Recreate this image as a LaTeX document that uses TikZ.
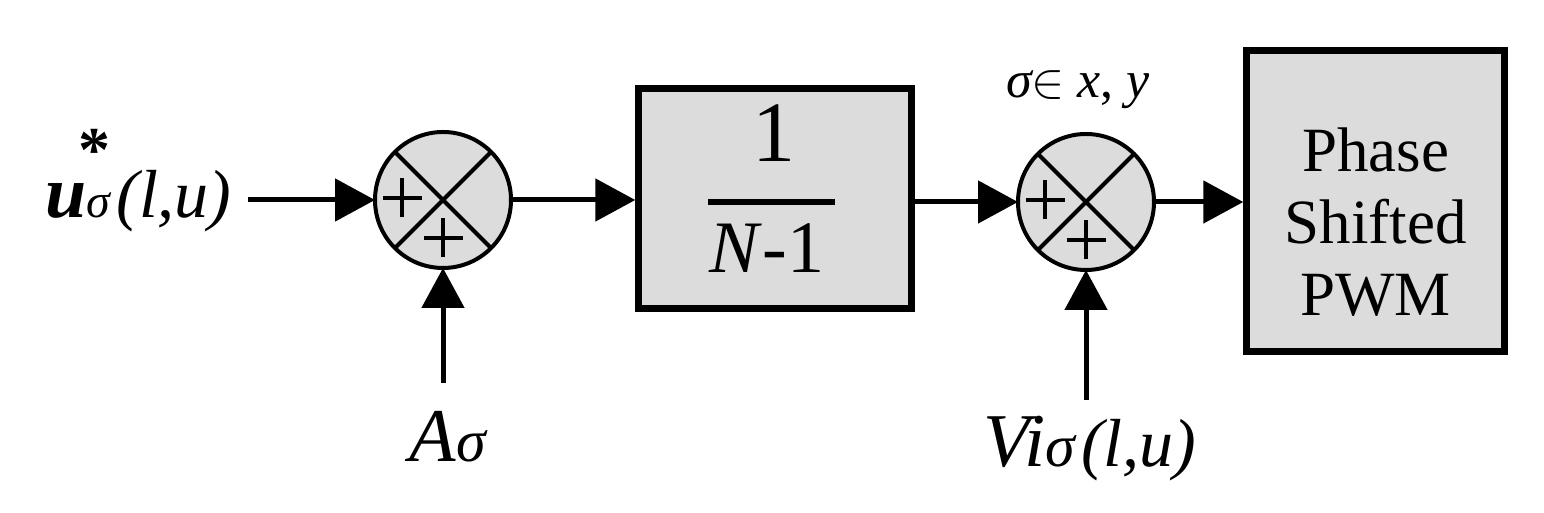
\documentclass[tikz,border=0pt]{standalone}
\usepackage{fontspec}
\setmainfont{Liberation Serif}
\usepackage{tikz}
\usetikzlibrary{arrows.meta,positioning}
\definecolor{blockfill}{HTML}{DCDCDC}

\begin{document}
\begin{tikzpicture}[
  x=0.5pt,y=0.5pt,
  sumnode/.style={circle,draw,line width=2pt,fill=blockfill,minimum size=68pt,inner sep=0pt,outer sep=0pt},
  blockbox/.style={draw,line width=3.2pt,fill=blockfill,inner sep=0pt},
  arr/.style={-{Triangle[length=20pt,width=21pt]},line width=2.5pt},
  signline/.style={line width=2pt},
  lbl/.style={inner sep=0pt,anchor=base}
]
\useasboundingbox (0,0) rectangle (1544,513);

\node[sumnode] (sum1) at (443,313) {};
\node[blockbox,minimum width=136.5pt,minimum height=110pt] (gain) at (775,314.5) {};
\node[sumnode] (sum2) at (1086,311) {};
\node[blockbox,minimum width=129pt,minimum height=150.5pt] (pwm) at (1375.5,312) {};

% crosses and plus signs in the junctions
\foreach \s in {sum1,sum2}{
  \draw[signline] (\s.north west) -- (\s.south east);
  \draw[signline] (\s.north east) -- (\s.south west);
  \draw[signline] ([shift={(-60.5,2)}]\s.center) -- ++(39,0);
  \draw[signline] ([shift={(-41,-17.5)}]\s.center) -- ++(0,39);
  \draw[signline] ([shift={(-19.5,-38)}]\s.center) -- ++(39,0);
  \draw[signline] ([shift={(0,-57.5)}]\s.center) -- ++(0,39);
}

\node[lbl,font=\fontsize{43}{43}\selectfont] (one) at ([shift={(-1,36.5)}]gain.center) {1};
\draw[line width=3.3pt] ([shift={(-67,-3.5)}]gain.center) -- ([shift={(60,-3.5)}]gain.center);
\node[lbl,font=\fontsize{37}{37}\selectfont] (nmone) at ([shift={(-8,-74.5)}]gain.center) {\textit{N}-1};

\node[align=center,inner sep=0pt,font=\fontsize{31.5}{36}\selectfont] (pwmtext) at ([yshift=-10.5]pwm.center) {Phase\\Shifted\\PWM};

\node[lbl,anchor=base east,font=\fontsize{34}{34}\selectfont] (uref) at (232,295)
  {{\fontsize{37}{37}\selectfont\bfseries\itshape u}\makebox[0pt]{\hspace{8pt}\raisebox{23pt}{\fontsize{32}{32}\selectfont\bfseries *}}{\fontsize{24}{24}\selectfont\itshape σ}\hspace{3pt}{\itshape (l,u)}};
\node[lbl] (asig) at (448,51) {{\fontsize{38}{38}\selectfont\itshape A}{\fontsize{30}{30}\selectfont\itshape σ}};
\node[lbl,font=\fontsize{26}{26}\selectfont] (domain) at (1078,415) {{\itshape σ}$\in$ \textit{x}, \textit{y}};
\node[lbl,font=\fontsize{34}{34}\selectfont] (viref) at (1090,46)
  {{\fontsize{38}{38}\selectfont\itshape Vi}{\fontsize{30}{30}\selectfont\itshape σ}\hspace{3pt}{\itshape (l,u)}};

\coordinate[below=57.5pt of sum1.south] (afeed);
\coordinate[below=65pt of sum2.south] (vifeed);

\draw[arr] ([xshift=8pt]uref.east |- sum1.west) -- (sum1.west);
\draw[arr] (sum1.east) -- (sum1.east -| gain.west);
\draw[arr] (gain.east |- sum2.west) -- (sum2.west);
\draw[arr] (sum2.east) -- (sum2.east -| pwm.west);
\draw[arr] (afeed) -- (sum1.south);
\draw[arr] (vifeed) -- (sum2.south);
\end{tikzpicture}
\end{document}
